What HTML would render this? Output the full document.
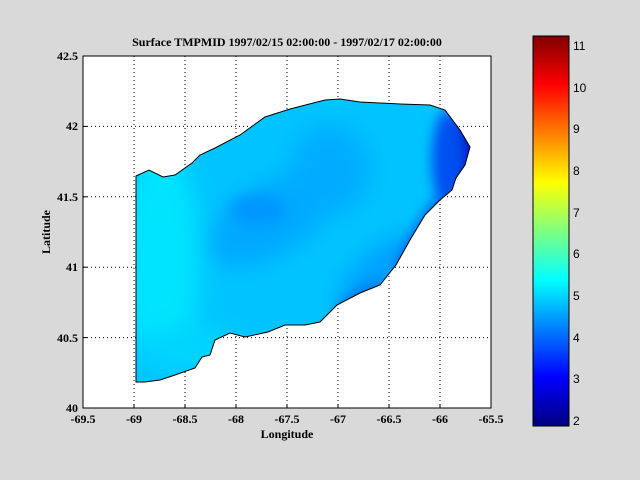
<!DOCTYPE html>
<html><head><style>
body{margin:0;background:#d9d9d9;}
svg{display:block;font-family:"Liberation Serif",serif;}
</style></head><body>
<svg width="640" height="480" xmlns="http://www.w3.org/2000/svg">
<defs>
<linearGradient id="jet" x1="0" y1="1" x2="0" y2="0">
<stop offset="0" stop-color="#000080"/>
<stop offset="0.125" stop-color="#0000ff"/>
<stop offset="0.375" stop-color="#00ffff"/>
<stop offset="0.625" stop-color="#ffff00"/>
<stop offset="0.875" stop-color="#ff0000"/>
<stop offset="1" stop-color="#800000"/>
</linearGradient>
<clipPath id="cp"><path id="shape" d="M136,176 L149,170 L163,177 L175,175 L192,163 L200,155 L215,148 L240,135 L265,117 L290,109 L325,100 L340,99 L360,102 L400,104 L430,105 L445,110 L460,130 L470,147 L465,165 L456,178 L452,190 L440,200 L425,215 L410,240 L396,265 L380,285 L360,293 L337,305 L320,322 L305,325 L285,325 L268,332 L245,337 L230,333 L215,340 L210,355 L202,357 L195,368 L175,375 L160,380 L145,382 L136,382 Z"/></clipPath>
<filter id="bl" x="-50%" y="-50%" width="200%" height="200%"><feGaussianBlur stdDeviation="12"/></filter>
<filter id="bl2" x="-50%" y="-50%" width="200%" height="200%"><feGaussianBlur stdDeviation="6"/></filter>
</defs>
<rect x="83" y="56" width="408" height="352" fill="#fff" stroke="#000"/>
<g stroke="#000" stroke-width="1" stroke-dasharray="1,3">
<line x1="134" y1="56" x2="134" y2="408"/><line x1="185" y1="56" x2="185" y2="408"/>
<line x1="236" y1="56" x2="236" y2="408"/><line x1="287" y1="56" x2="287" y2="408"/>
<line x1="338" y1="56" x2="338" y2="408"/><line x1="389" y1="56" x2="389" y2="408"/>
<line x1="440" y1="56" x2="440" y2="408"/>
<line x1="83" y1="126.4" x2="491" y2="126.4"/><line x1="83" y1="196.8" x2="491" y2="196.8"/>
<line x1="83" y1="267.2" x2="491" y2="267.2"/><line x1="83" y1="337.6" x2="491" y2="337.6"/>
</g>
<g clip-path="url(#cp)">
<rect x="130" y="95" width="345" height="290" fill="#00c4ff"/>
<g filter="url(#bl)">
<ellipse cx="160" cy="260" rx="40" ry="110" fill="#00e4ff"/>
<ellipse cx="270" cy="220" rx="70" ry="35" fill="#00a8ff" transform="rotate(-30 270 220)"/>
<ellipse cx="330" cy="170" rx="40" ry="45" fill="#00acff"/>
<ellipse cx="190" cy="350" rx="50" ry="25" fill="#00d4ff"/>
<ellipse cx="380" cy="270" rx="50" ry="20" fill="#00a0ff" transform="rotate(-40 380 270)"/>
</g>
<g filter="url(#bl2)">
<ellipse cx="258" cy="210" rx="28" ry="16" fill="#0098ff"/>
<ellipse cx="472" cy="150" rx="22" ry="40" fill="#0000c8"/>
<ellipse cx="448" cy="160" rx="16" ry="50" fill="#0050f0"/>
<ellipse cx="420" cy="235" rx="8" ry="50" fill="#0060f0" transform="rotate(30 420 235)"/>
<ellipse cx="360" cy="296" rx="6" ry="30" fill="#0070f0" transform="rotate(60 360 296)"/>
</g>
</g>
<use href="#shape" fill="none" stroke="#000" stroke-width="1"/>
<g stroke="#000">
<line x1="134" y1="408" x2="134" y2="404"/><line x1="185" y1="408" x2="185" y2="404"/><line x1="236" y1="408" x2="236" y2="404"/><line x1="287" y1="408" x2="287" y2="404"/><line x1="338" y1="408" x2="338" y2="404"/><line x1="389" y1="408" x2="389" y2="404"/><line x1="440" y1="408" x2="440" y2="404"/>
<line x1="83" y1="126.4" x2="87" y2="126.4"/><line x1="83" y1="196.8" x2="87" y2="196.8"/><line x1="83" y1="267.2" x2="87" y2="267.2"/><line x1="83" y1="337.6" x2="87" y2="337.6"/>
</g>
<g font-size="12" font-weight="bold" text-anchor="middle">
<text x="83" y="423">-69.5</text><text x="134" y="423">-69</text><text x="185" y="423">-68.5</text>
<text x="236" y="423">-68</text><text x="287" y="423">-67.5</text><text x="338" y="423">-67</text>
<text x="389" y="423">-66.5</text><text x="440" y="423">-66</text><text x="491" y="423">-65.5</text>
</g>
<g font-size="12" font-weight="bold" text-anchor="end">
<text x="78" y="60">42.5</text><text x="78" y="130">42</text><text x="78" y="201">41.5</text>
<text x="78" y="271">41</text><text x="78" y="342">40.5</text><text x="78" y="412">40</text>
</g>
<text x="287" y="438" font-size="12" font-weight="bold" text-anchor="middle">Longitude</text>
<text transform="translate(50,232) rotate(-90)" font-size="12" font-weight="bold" text-anchor="middle">Latitude</text>
<text x="287" y="46" font-size="12" font-weight="bold" text-anchor="middle">Surface TMPMID  1997/02/15 02:00:00 - 1997/02/17 02:00:00</text>
<rect x="533" y="36" width="36" height="390" fill="url(#jet)" stroke="#000"/>
<g font-family="Liberation Sans,sans-serif" font-size="12">
<text x="573" y="50">11</text><text x="573" y="92">10</text><text x="573" y="133">9</text>
<text x="573" y="175">8</text><text x="573" y="217">7</text><text x="573" y="258">6</text>
<text x="573" y="300">5</text><text x="573" y="342">4</text><text x="573" y="383">3</text>
<text x="573" y="425">2</text>
</g>
</svg>
</body></html>
